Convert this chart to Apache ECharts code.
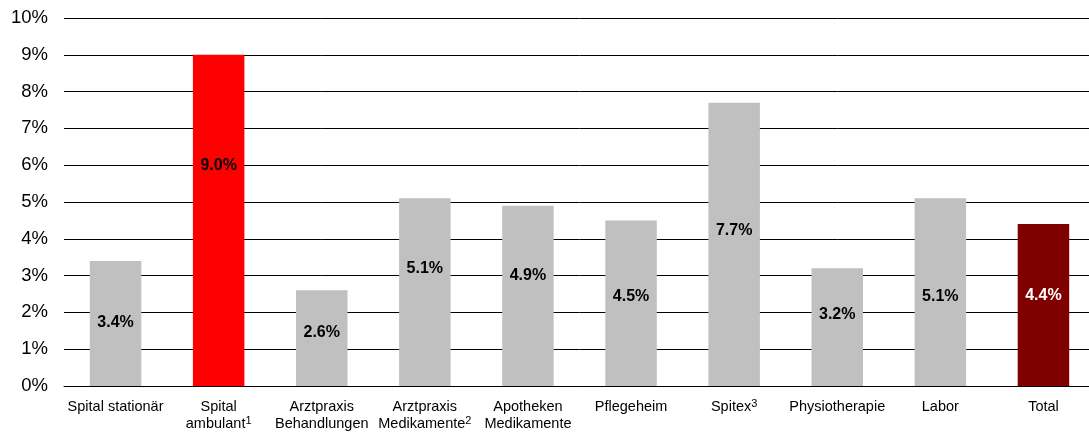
<!DOCTYPE html>
<html><head><meta charset="utf-8">
<script src="https://cdn.jsdelivr.net/npm/echarts@6/dist/echarts.min.js"></script>
<style>html,body{margin:0;padding:0;background:#fff;overflow:hidden}#c{width:1095px;height:432px}</style>
</head><body><div id="c"></div>
<script>
const categories = ['Spital stationär', 'Spital\nambulant{sup|1}', 'Arztpraxis\nBehandlungen', 'Arztpraxis\nMedikamente{sup|2}', 'Apotheken\nMedikamente', 'Pflegeheim', 'Spitex{sup|3}', 'Physiotherapie', 'Labor', 'Total'];
const values = [3.4, 9.0, 2.6, 5.1, 4.9, 4.5, 7.7, 3.2, 5.1, 4.4];
const barColors = ['#C0C0C0', '#FF0000', '#C0C0C0', '#C0C0C0', '#C0C0C0', '#C0C0C0', '#C0C0C0', '#C0C0C0', '#C0C0C0', '#800000'];
const labelColors = ['#000', '#000', '#000', '#000', '#000', '#000', '#000', '#000', '#000', '#fff'];
const labelOffsets = [-1, -55, -6, -24, -20, -7, -14, -13, 4, -9];
const yTicks = [0, 1, 2, 3, 4, 5, 6, 7, 8, 9, 10];

const chart = echarts.init(document.getElementById('c'));
chart.setOption({
  animation: false,
  grid: { left: 64, right: 0, top: 18, bottom: 46, containLabel: false, outerBoundsMode: 'none' },
  xAxis: {
    type: 'category', data: categories,
    axisLine: { lineStyle: { color: '#000', width: 1 } },
    axisTick: { show: false },
    axisLabel: {
      interval: 0, margin: 12, color: '#000', fontFamily: 'Liberation Sans, Arial', fontSize: 14.5, lineHeight: 17,
      rich: { sup: { fontSize: 11, verticalAlign: 'top', lineHeight: 17, padding: [0, 0, 8, 0], fontFamily: 'Liberation Sans, Arial', color: '#000' } }
    }
  },
  yAxis: {
    type: 'value', min: 0, max: 10, interval: 1,
    axisLine: { show: false }, axisTick: { show: false },
    splitLine: { lineStyle: { color: '#000', width: 1 } },
    axisLabel: { formatter: v => yTicks.includes(v) ? v + '%' : '', color: '#000', fontFamily: 'Liberation Sans, Arial', fontSize: 18.5, margin: 16 }
  },
  series: [{
    type: 'bar', barWidth: 51.5,
    data: values.map((v, i) => ({
      value: v,
      itemStyle: { color: barColors[i] },
      label: { show: true, position: 'inside', offset: [0, labelOffsets[i]], color: labelColors[i],
        formatter: p => p.value.toFixed(1) + '%', fontWeight: 'bold', fontSize: 16, fontFamily: 'Liberation Sans, Arial' }
    }))
  }]
});
</script></body></html>
